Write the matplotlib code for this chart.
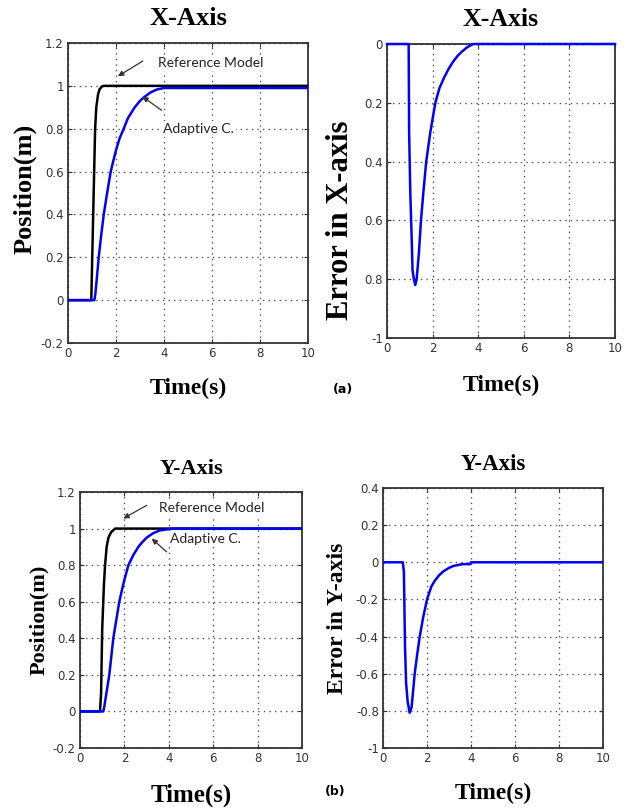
"""
Adaptive controller vs reference model: position tracking and error on the X and Y axes.
Four MATLAB-style panels, (a) X-axis on top, (b) Y-axis below.
"""

import matplotlib
matplotlib.use("Agg")
import matplotlib.pyplot as plt

plt.rcParams["axes.unicode_minus"] = False

# --- data (time in s) -----------------------------------------------------------
# X-axis position
t_ref_x = [0, 0.97, 1.02, 1.08, 1.13, 1.18, 1.25, 1.32, 1.42, 1.5, 10]
ref_x = [0, 0, 0.25, 0.55, 0.8, 0.9, 0.96, 0.985, 0.998, 1.0, 1.0]
t_ada_x = [0, 1.1, 1.14, 1.2, 1.28, 1.38, 1.49, 1.63, 1.78, 1.9, 2.0, 2.15, 2.32, 2.5,
           2.78, 3.0, 3.2, 3.45, 3.7, 4.0, 10]
ada_x = [0, 0, 0.03, 0.1, 0.2, 0.3, 0.4, 0.5, 0.6, 0.655, 0.7, 0.755, 0.8, 0.85,
         0.9, 0.93, 0.95, 0.97, 0.983, 0.99, 0.99]

# X-axis error
t_err_x = [0, 0.95, 0.97, 1.02, 1.09, 1.12, 1.18, 1.24, 1.3, 1.4, 1.49, 1.6, 1.72,
           1.9, 2.12, 2.3, 2.5, 2.7, 2.9, 3.1, 3.3, 3.5, 3.7, 3.8, 10]
err_x = [0, 0, -0.3, -0.5, -0.68, -0.77, -0.8, -0.82, -0.8, -0.71, -0.6, -0.5, -0.4,
         -0.3, -0.2, -0.15, -0.115, -0.085, -0.06, -0.04, -0.025, -0.012, -0.003, 0, 0]

# Y-axis position
t_ref_y = [0, 0.9, 0.95, 1.0, 1.08, 1.13, 1.2, 1.28, 1.4, 1.58, 10]
ref_y = [0, 0, 0.1, 0.45, 0.7, 0.8, 0.9, 0.95, 0.98, 1.0, 1.0]
t_ada_y = [0, 1.05, 1.1, 1.15, 1.32, 1.5, 1.77, 1.9, 2.0, 2.18, 2.4, 2.63, 2.8, 3.0,
           3.3, 3.6, 4.2, 10]
ada_y = [0, 0, 0.03, 0.07, 0.2, 0.4, 0.6, 0.67, 0.72, 0.8, 0.855, 0.9, 0.925, 0.95,
         0.975, 0.99, 1.0, 1.0]

# Y-axis error
t_err_y = [0, 0.9, 0.95, 1.0, 1.05, 1.12, 1.21, 1.3, 1.44, 1.55, 1.67, 1.82, 2.0,
           2.2, 2.35, 2.55, 2.73, 3.0, 3.2, 3.6, 3.95, 4.0, 10]
err_y = [0, 0, -0.05, -0.45, -0.65, -0.75, -0.81, -0.78, -0.6, -0.5, -0.4, -0.3, -0.2,
         -0.13, -0.1, -0.07, -0.05, -0.03, -0.02, -0.01, -0.01, 0, 0]

x_ticks = [0, 2, 4, 6, 8, 10]
pos_ticks = [-0.2, 0, 0.2, 0.4, 0.6, 0.8, 1, 1.2]
pos_labels = ["-0.2", "0", "0.2", "0.4", "0.6", "0.8", "1", "1.2"]
errx_ticks = [-1, -0.8, -0.6, -0.4, -0.2, 0]
errx_labels = ["-1", "0.8", "0.6", "0.4", "0.2", "0"]   # minus signs lost in the original
erry_ticks = [-1, -0.8, -0.6, -0.4, -0.2, 0, 0.2, 0.4]
erry_labels = ["-1", "-0.8", "-0.6", "-0.4", "-0.2", "0", "0.2", "0.4"]

SERIF = "Liberation Serif"
BLUE = "#0000FF"
W, H = 636, 810


def px_axes(fig, left, top, right, bottom):
    return fig.add_axes([left / W, 1 - bottom / H, (right - left) / W, (bottom - top) / H])


def matlab_style(ax, yticks, ylabels, ylim):
    ax.set_xlim(0, 10)
    ax.set_ylim(*ylim)
    ax.set_xticks(x_ticks)
    ax.set_xticklabels([str(v) for v in x_ticks])
    ax.set_yticks(yticks)
    ax.set_yticklabels(ylabels)
    ax.tick_params(direction="in", length=3, width=0.8, top=True, right=True,
                   labelsize=8.5, labelcolor="#333333", color="#333333", pad=3)
    ax.grid(True, ls=(0, (1, 3)), color="#555555", lw=1.0)
    ax.set_axisbelow(True)
    for s in ax.spines.values():
        s.set_color("#333333")
        s.set_linewidth(1.3)


def labels(ax, title, tsize, ylab, ysize, ypos, xsize, xlab_y, ylab_x):
    ax.set_title(title, family=SERIF, weight="bold", fontsize=tsize, pad=13)
    ax.set_xlabel("Time(s)", family=SERIF, weight="bold", fontsize=xsize)
    ax.xaxis.set_label_coords(0.5, xlab_y)
    ax.set_ylabel(ylab, family=SERIF, weight="bold", fontsize=ysize)
    ax.yaxis.set_label_coords(ylab_x, ypos)


def notes(ax, ref_txt, ref_tail, ref_head, ada_txt, ada_tail, ada_head):
    box = dict(facecolor="white", edgecolor="none", pad=1.5)
    arrow = dict(arrowstyle="-|>", color="#333333", lw=0.9, mutation_scale=8,
                 shrinkA=0, shrinkB=0)
    ax.annotate("", xy=ref_head, xytext=ref_tail, arrowprops=arrow)
    ax.annotate("", xy=ada_head, xytext=ada_tail, arrowprops=arrow)
    ax.text(*ref_txt, "Reference Model", family="Lato", fontsize=10, color="#222222",
            ha="left", va="center", bbox=box)
    ax.text(*ada_txt, "Adaptive C.", family="Lato", fontsize=10, color="#222222",
            ha="left", va="center", bbox=box)


fig = plt.figure(figsize=(W / 100, H / 100), dpi=100)

# (a) X-axis position
ax1 = px_axes(fig, 68, 43, 308, 343)
matlab_style(ax1, pos_ticks, pos_labels, (-0.2, 1.2))
ax1.plot(t_ref_x, ref_x, color="black", lw=1.8, zorder=3)
ax1.plot(t_ada_x, ada_x, color=BLUE, lw=1.8, zorder=3)
notes(ax1, (3.75, 1.108), (3.12, 1.116), (2.08, 1.045),
      (3.95, 0.80), (3.9, 0.886), (3.1, 0.95))
labels(ax1, "X-Axis", 19, "Position(m)", 19, 0.515, 17, -0.115, -0.13)

# (a) X-axis error
ax2 = px_axes(fig, 387, 44, 615, 338)
matlab_style(ax2, errx_ticks, errx_labels, (-1, 0))
ax2.plot(t_err_x, err_x, color=BLUE, lw=1.8, zorder=3, clip_on=False)
labels(ax2, "X-Axis", 18.5, "Error in X-axis", 22, 0.4, 17, -0.125, -0.14)

# (b) Y-axis position
ax3 = px_axes(fig, 80, 492, 302, 748)
matlab_style(ax3, pos_ticks, pos_labels, (-0.2, 1.2))
ax3.plot(t_ref_y, ref_y, color="black", lw=1.8, zorder=3)
ax3.plot(t_ada_y, ada_y, color=BLUE, lw=1.8, zorder=3)
notes(ax3, (3.55, 1.11), (3.0, 1.127), (1.95, 1.055),
      (4.05, 0.945), (3.9, 0.873), (3.23, 0.945))
labels(ax3, "Y-Axis", 16, "Position(m)", 16, 0.5, 18, -0.14, -0.14)

# (b) Y-axis error
ax4 = px_axes(fig, 383, 488, 603, 748)
matlab_style(ax4, erry_ticks, erry_labels, (-1, 0.4))
ax4.plot(t_err_y, err_y, color=BLUE, lw=1.8, zorder=3)
labels(ax4, "Y-Axis", 16.5, "Error in Y-axis", 17, 0.5, 17, -0.135, -0.16)

fig.text(333 / W, 1 - 390 / H, "(a)", fontsize=9, weight="bold", family="DejaVu Sans",
         va="center")
fig.text(325 / W, 1 - 792 / H, "(b)", fontsize=9, weight="bold", family="DejaVu Sans",
         va="center")

fig.savefig("out.png", dpi=100)
